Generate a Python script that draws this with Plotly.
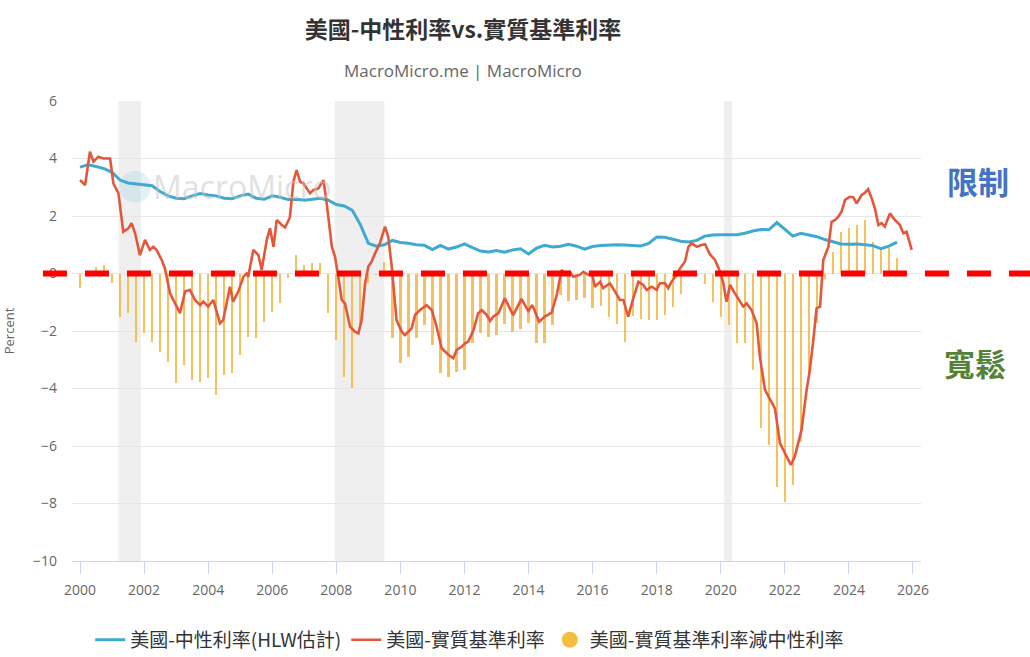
import plotly.graph_objects as go

# ---------------- data ----------------
years = list(range(2000, 2026))
quarters = [y + q / 4 for y in years for q in range(4)][:103]  # 2000Q1 .. 2025Q3

neutral_rate = [
    3.70, 3.78, 3.72, 3.65,
    3.52, 3.25, 3.15, 3.12,
    3.10, 3.05, 2.85, 2.70,
    2.62, 2.60, 2.70, 2.78,
    2.73, 2.70, 2.62, 2.60,
    2.70, 2.76, 2.62, 2.58,
    2.70, 2.65, 2.57, 2.58,
    2.55, 2.58, 2.62, 2.55,
    2.40, 2.35, 2.20, 1.70,
    1.05, 0.95, 1.00, 1.15,
    1.08, 1.05, 1.00, 0.98,
    0.83, 0.98, 0.85, 0.92,
    1.03, 0.90, 0.78, 0.75,
    0.80, 0.74, 0.82, 0.86,
    0.68, 0.88, 0.98, 0.92,
    0.95, 1.02, 0.95, 0.85,
    0.94, 0.97, 0.99, 1.00,
    0.99, 0.98, 0.96, 1.05,
    1.27, 1.26, 1.20, 1.12,
    1.10, 1.15, 1.30, 1.34,
    1.35, 1.34, 1.35, 1.40,
    1.48, 1.53, 1.52, 1.77,
    1.55, 1.30, 1.40, 1.33,
    1.28, 1.18, 1.10, 1.03,
    1.02, 1.03, 1.00, 0.97,
    0.86, 0.95, 1.09,
]

gap = [
    -0.50, 0.10, 0.24, 0.29,
    -0.34, -1.50, -1.38, -2.37,
    -2.08, -2.37, -2.72, -3.07,
    -3.82, -3.18, -3.70, -3.76,
    -3.65, -4.23, -3.53, -3.47,
    -2.83, -2.20, -2.26, -1.68,
    -1.33, -1.04, -0.17, 0.64,
    0.30, 0.35, 0.35, -1.38,
    -2.31, -3.59, -3.99, -1.90,
    -0.34, -0.05, 0.41, -2.26,
    -3.12, -2.89, -2.26, -1.79,
    -2.49, -3.47, -3.59, -3.41,
    -3.36, -2.43, -2.08, -2.20,
    -2.14, -1.76, -2.05, -1.94,
    -1.73, -2.43, -2.43, -1.79,
    -0.75, -0.95, -0.92, -0.84,
    -1.20, -1.12, -1.50, -1.75,
    -2.37, -1.47, -1.59, -1.62,
    -1.62, -1.45, -1.15, -0.72,
    -0.10, -0.05, -0.37, -0.98,
    -1.50, -1.79, -2.43, -2.43,
    -3.36, -5.39, -5.97, -7.42,
    -7.94, -7.36, -5.85, -3.59,
    -1.73, -0.20, 0.76, 1.45,
    1.57, 1.69, 1.86, 1.11,
    0.93, 0.87, 0.53,
]

real_t = [
    2000.00, 2000.16, 2000.31, 2000.42, 2000.57, 2000.73, 2000.94, 2001.04, 2001.20, 2001.35,
    2001.51, 2001.61, 2001.72, 2001.87, 2002.03, 2002.18, 2002.29, 2002.39, 2002.55, 2002.65,
    2002.81, 2002.97, 2003.12, 2003.28, 2003.43, 2003.59, 2003.75, 2003.85, 2004.00, 2004.16,
    2004.27, 2004.37, 2004.47, 2004.68, 2004.78, 2004.94, 2005.10, 2005.20, 2005.25, 2005.41,
    2005.57, 2005.67, 2005.83, 2005.93, 2006.04, 2006.14, 2006.30, 2006.40, 2006.55, 2006.66,
    2006.76, 2006.87, 2006.97, 2007.08, 2007.18, 2007.28, 2007.44, 2007.60, 2007.70, 2007.86,
    2007.96, 2008.06, 2008.17, 2008.27, 2008.43, 2008.58, 2008.69, 2008.79, 2008.90, 2009.00,
    2009.10, 2009.21, 2009.36, 2009.52, 2009.62, 2009.73, 2009.88, 2010.04, 2010.14, 2010.25,
    2010.35, 2010.46, 2010.61, 2010.82, 2010.98, 2011.13, 2011.29, 2011.50, 2011.65, 2011.76,
    2011.91, 2012.02, 2012.12, 2012.28, 2012.43, 2012.54, 2012.69, 2012.80, 2012.90, 2013.06,
    2013.26, 2013.52, 2013.78, 2013.99, 2014.12, 2014.33, 2014.51, 2014.72, 2014.88, 2015.03,
    2015.14, 2015.29, 2015.40, 2015.60, 2015.71, 2015.87, 2015.97, 2016.07, 2016.23, 2016.33,
    2016.54, 2016.70, 2016.85, 2016.96, 2017.11, 2017.27, 2017.43, 2017.58, 2017.69, 2017.84,
    2018.00, 2018.10, 2018.26, 2018.36, 2018.46, 2018.62, 2018.73, 2018.88, 2018.99, 2019.09,
    2019.25, 2019.40, 2019.51, 2019.66, 2019.82, 2019.98, 2020.08, 2020.18, 2020.29, 2020.44,
    2020.60, 2020.70, 2020.81, 2020.96, 2021.12, 2021.22, 2021.38, 2021.54, 2021.69, 2021.85,
    2022.00, 2022.19, 2022.31, 2022.52, 2022.68, 2022.78, 2022.89, 2022.99, 2023.10, 2023.20,
    2023.36, 2023.46, 2023.57, 2023.67, 2023.77, 2023.88, 2024.03, 2024.14, 2024.24, 2024.40,
    2024.50, 2024.60, 2024.71, 2024.81, 2024.92, 2025.02, 2025.12, 2025.28, 2025.44, 2025.59,
    2025.70, 2025.80, 2025.96,
]
real_rate = [
    3.25, 3.08, 4.24, 3.89, 4.06, 4.00, 4.00, 3.14, 2.79, 1.45,
    1.57, 1.75, 1.40, 0.64, 1.17, 0.82, 0.93, 0.82, 0.47, 0.18,
    -0.69, -1.04, -1.38, -0.63, -0.57, -0.92, -1.10, -0.98, -1.15, -0.92,
    -1.38, -1.73, -1.62, -0.46, -0.98, -0.63, -0.11, 0.00, -0.11, 0.82,
    0.64, 0.12, 1.17, 1.57, 0.93, 1.86, 1.69, 1.60, 1.95, 3.19,
    3.60, 3.19, 3.14, 2.96, 2.79, 2.90, 2.96, 3.25, 2.44, 0.93,
    0.58, -0.11, -0.92, -1.04, -1.85, -2.02, -2.08, -1.62, -0.34, 0.24,
    0.41, 0.70, 1.05, 1.63, 1.28, 0.24, -1.62, -2.02, -2.14, -2.02,
    -1.91, -1.44, -1.27, -1.10, -1.27, -1.85, -2.60, -2.83, -2.95, -2.66,
    -2.55, -2.43, -2.37, -1.97, -1.38, -1.27, -1.44, -1.65, -1.50, -1.38,
    -0.86, -1.45, -0.88, -1.30, -1.10, -1.68, -1.50, -1.36, -0.75, 0.12,
    0.00, 0.06, -0.11, -0.05, 0.06, -0.05, 0.06, -0.46, -0.29, -0.51,
    -0.34, -0.63, -0.92, -0.92, -1.50, -0.86, -0.29, -0.40, -0.57, -0.46,
    -0.57, -0.34, -0.34, -0.51, -0.29, -0.05, 0.18, 0.41, 0.93, 1.05,
    0.93, 0.99, 1.02, 0.67, 0.47, 0.06, -0.34, -0.98, -0.40, -0.69,
    -0.98, -1.15, -1.04, -1.27, -1.73, -2.89, -4.05, -4.40, -4.69, -5.91,
    -6.25, -6.66, -6.37, -5.44, -4.05, -3.36, -2.31, -1.21, -1.15, 0.47,
    0.93, 1.80, 1.86, 1.98, 2.15, 2.56, 2.67, 2.65, 2.44, 2.73,
    2.81, 2.93, 2.62, 2.27, 1.69, 1.75, 1.63, 2.09, 1.86, 1.69,
    1.40, 1.45, 0.82,
]

recessions = [(2001.2, 2001.9), (2007.95, 2009.5), (2020.1, 2020.35)]
x_ticks = list(range(2000, 2027, 2))

name_neutral = "美國-中性利率(HLW估計)"
name_real = "美國-實質基準利率"
name_gap = "美國-實質基準利率減中性利率"

# ---------------- figure ----------------
CJK = "Noto Sans CJK TC, Noto Sans, sans-serif"
NUM = "Open Sans, sans-serif"

fig = go.Figure()

fig.add_trace(go.Bar(
    x=quarters, y=gap, width=0.07, name=name_gap,
    marker=dict(color="rgba(243,183,60,0.85)", line=dict(width=0)),
    showlegend=False,
))
fig.add_trace(go.Scatter(
    x=quarters, y=neutral_rate, mode="lines", name=name_neutral,
    line=dict(color="#3FAACF", width=3), legendrank=1,
))
fig.add_trace(go.Scatter(
    x=real_t, y=real_rate, mode="lines", name=name_real,
    line=dict(color="#E4573A", width=2.6), legendrank=2,
))
# legend entry for the bars (circle marker as in the reference)
fig.add_trace(go.Scatter(
    x=[None], y=[None], mode="markers", name=name_gap,
    marker=dict(color="#F5BE41", size=18, symbol="circle"), legendrank=3,
))

shapes = []
for a, b in recessions:
    shapes.append(dict(type="rect", xref="x", yref="paper", x0=a, x1=b, y0=0, y1=1,
                       fillcolor="#efefef", line=dict(width=0), layer="below"))
# watermark circle
shapes.append(dict(type="circle", xref="paper", yref="paper",
                   x0=0.0555, x1=0.0929, y0=0.7790, y1=0.8484,
                   fillcolor="rgba(170,215,228,0.35)", line=dict(width=0), layer="below"))
# red dashed zero line
shapes.append(dict(type="line", xref="paper", yref="paper",
                   x0=-0.0342, x1=1.13, y0=0.625, y1=0.625,
                   line=dict(color="#FF0000", width=6, dash="24px,18px"), layer="above"))

annotations = [
    dict(text="MacroMicro.me | MacroMicro", xref="paper", yref="paper", x=0.4605, y=1.067,
         xanchor="center", yanchor="middle",
         showarrow=False, font=dict(family=NUM, size=17, color="#666666")),
    dict(text="MacroMicro", xref="paper", yref="paper", x=0.2014, y=0.8137,
         xanchor="center", yanchor="middle",
         showarrow=False, font=dict(family=NUM, size=32, color="rgba(195,195,195,0.5)")),
    dict(text="<b>限制</b>", xref="paper", yref="paper", x=1.067, y=0.828,
         xanchor="center", yanchor="middle",
         showarrow=False, font=dict(family=CJK, size=31, color="#4472C4")),
    dict(text="<b>寬鬆</b>", xref="paper", yref="paper", x=1.0636, y=0.4326,
         xanchor="center", yanchor="middle",
         showarrow=False, font=dict(family=CJK, size=31, color="#548235")),
]

fig.update_layout(
    width=1030, height=657,
    margin=dict(l=72, r=109, t=101, b=96, autoexpand=False),
    paper_bgcolor="white", plot_bgcolor="white",
    title=dict(text="<b>美國-中性利率vs.實質基準利率</b>", x=0.4495, xanchor="center",
               xref="container", y=0.954, yanchor="middle", yref="container",
               font=dict(family=CJK, size=23, color="#333333")),
    shapes=shapes, annotations=annotations,
    bargap=0,
    showlegend=True,
    legend=dict(orientation="h", xref="container", yref="container",
                x=0.456, xanchor="center", y=0.026, yanchor="middle",
                font=dict(family=CJK, size=19, color="#333333"),
                itemwidth=30, traceorder="normal"),
    xaxis=dict(range=[1999.75, 2026.25], tickmode="array", tickvals=x_ticks,
               ticktext=[str(v) for v in x_ticks], automargin=False,
               showgrid=False, zeroline=False, showline=True, linecolor="#ccd6eb",
               ticks="outside", ticklen=12, tickcolor="#ccd6eb",
               ticklabelstandoff=4,
               tickfont=dict(family=NUM, size=14, color="#666666")),
    yaxis=dict(range=[-10, 6], dtick=2, showgrid=True, gridcolor="#e6e6e6",
               zeroline=False, showline=False, ticks="", automargin=False,
               ticklabelstandoff=14,
               tickfont=dict(family=NUM, size=14, color="#666666"),
               title=dict(text="Percent", standoff=16,
                          font=dict(family=NUM, size=13, color="#666666"))),
)

fig.write_html("out.html", config={"displayModeBar": False},
               post_script="document.body.style.margin='0px';")
